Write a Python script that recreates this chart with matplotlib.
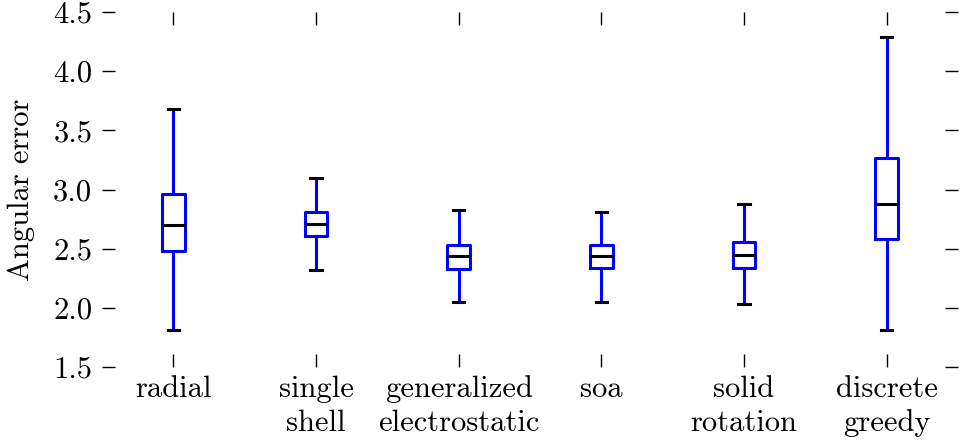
import matplotlib
matplotlib.use("Agg")
import matplotlib.pyplot as plt

categories = ["radial", "single\nshell", "generalized\nelectrostatic", "soa",
              "solid\nrotation", "discrete\ngreedy"]
whislo = [1.81, 2.32, 2.05, 2.05, 2.03, 1.81]
q1 = [2.48, 2.61, 2.33, 2.34, 2.34, 2.58]
med = [2.70, 2.71, 2.44, 2.44, 2.45, 2.88]
q3 = [2.96, 2.81, 2.53, 2.53, 2.56, 3.27]
whishi = [3.68, 3.10, 2.83, 2.81, 2.88, 4.29]
yticks = [1.5, 2.0, 2.5, 3.0, 3.5, 4.0, 4.5]

plt.rcParams['font.family'] = ['cmr10', 'DejaVu Serif']
plt.rcParams['axes.formatter.use_mathtext'] = True

fig = plt.figure(figsize=(9.6, 4.42), dpi=100)
ax = fig.add_axes([102/960, 1 - 367/442, 856/960, 355/442])

stats = []
for i in range(len(categories)):
    stats.append(dict(whislo=whislo[i], q1=q1[i], med=med[i], q3=q3[i],
                      whishi=whishi[i], fliers=[], label=categories[i]))

positions = list(range(1, len(categories) + 1))
ax.bxp(stats, positions=positions, widths=0.16, showfliers=False,
       boxprops=dict(color='#0000ff', linewidth=2.2),
       whiskerprops=dict(color='#0000ff', linewidth=2.2),
       capprops=dict(color='black', linewidth=2.2),
       medianprops=dict(color='black', linewidth=2.2))

ax.set_xlim(0.5, len(categories) + 0.5)
ax.set_ylim(1.5, 4.5)
ax.set_xticks(positions)
ax.set_xticklabels(categories, fontsize=22, linespacing=1.3)
ax.set_yticks(yticks)
ax.set_yticklabels(["%.1f" % v for v in yticks], fontsize=22)
ax.set_ylabel("Angular error", fontsize=22, labelpad=13)

for s in ax.spines.values():
    s.set_visible(False)
ax.tick_params(axis='both', direction='in', length=9.5, width=1.0,
               top=True, right=True, color='black')
ax.tick_params(axis='y', pad=7)
ax.tick_params(axis='x', pad=6)

fig.savefig("out.png", dpi=100)
